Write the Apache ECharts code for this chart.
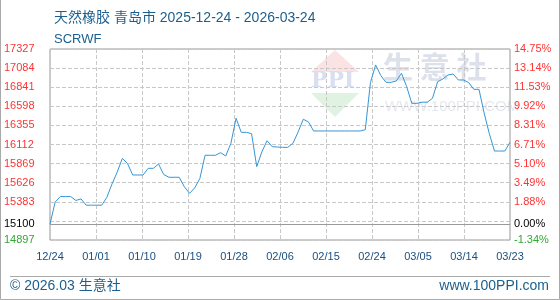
<!DOCTYPE html>
<html>
<head>
<meta charset="utf-8">
<script src="https://cdn.jsdelivr.net/npm/echarts@6/dist/echarts.min.js"></script>
<style>
html,body{margin:0;padding:0;background:#fff;}
#main{width:560px;height:300px;}
</style>
</head>
<body>
<div id="main"></div>
<script>
// ---- data ----
var dates = [
 '12/24','12/25','12/26','12/27','12/28','12/29','12/30','12/31',
 '01/01','01/02','01/03','01/04','01/05','01/06','01/07','01/08','01/09','01/10',
 '01/11','01/12','01/13','01/14','01/15','01/16','01/17','01/18','01/19','01/20',
 '01/21','01/22','01/23','01/24','01/25','01/26','01/27','01/28','01/29','01/30','01/31',
 '02/01','02/02','02/03','02/04','02/05','02/06','02/07','02/08','02/09','02/10',
 '02/11','02/12','02/13','02/14','02/15','02/16','02/17','02/18','02/19','02/20',
 '02/21','02/22','02/23','02/24','02/25','02/26','02/27','02/28',
 '03/01','03/02','03/03','03/04','03/05','03/06','03/07','03/08','03/09','03/10',
 '03/11','03/12','03/13','03/14','03/15','03/16','03/17','03/18','03/19','03/20',
 '03/21','03/22','03/23'
];
var prices = [
 15100,15380,15450,15450,15450,15400,15420,15340,15340,15340,
 15340,15440,15610,15760,15936,15870,15724,15724,15724,15809,
 15809,15864,15730,15695,15695,15695,15574,15490,15560,15680,
 15975,15975,15975,16008,15966,16127,16445,16267,16267,16250,
 15830,16020,16160,16084,16080,16076,16076,16127,16270,16433,
 16400,16284,16284,16284,16284,16284,16284,16284,16284,16284,
 16284,16300,16900,17124,16990,16903,16903,16920,17018,16850,
 16636,16636,16650,16650,16700,16911,16945,16996,17009,16933,
 16933,16900,16814,16814,16510,16250,16029,16029,16029,16140
];
var basePrice = 15100;
var xLabels = ['12/24','01/01','01/10','01/19','01/28','02/06','02/15','02/24','03/05','03/14','03/23'];
var yGrid = [14897,15140,15383,15626,15869,16112,16355,16598,16841,17084,17327];
var yLabels = [14897,15100,15383,15626,15869,16112,16355,16598,16841,17084,17327];
var pctLabels = ['-1.34%','0.00%','1.88%','3.49%','5.10%','6.71%','8.31%','9.92%','11.53%','13.14%','14.75%'];
var yMin = 14897, yMax = 17327;

var FONT = '"Liberation Sans","Noto Sans CJK SC",sans-serif';
function labelColor(v){
  v = Number(v);
  if (v > basePrice) return '#ff3333';
  if (v < basePrice) return '#33a633';
  return '#000000';
}

var chart = echarts.init(document.getElementById('main'), null, {renderer:'canvas'});
chart.setOption({
  animation:false,
  backgroundColor:'#ffffff',
  title:[
    {text:'天然橡胶 青岛市 2025-12-24 - 2026-03-24', left:49, top:6,
     textStyle:{fontFamily:FONT, fontSize:14, fontWeight:'normal', color:'#1b5f8e'}},
    {text:'SCRWF', left:49, top:28,
     textStyle:{fontFamily:FONT, fontSize:13, fontWeight:'normal', color:'#1b5f8e'}}
  ],
  grid:{left:50, top:49, width:460, height:191, show:true, borderColor:'#999', borderWidth:1,
        backgroundColor:'transparent', containLabel:false, outerBoundsMode:'none'},
  xAxis:[
    {type:'category', data:dates, boundaryGap:false, position:'top', show:false},
    {type:'value', min:0, max:10, interval:1, position:'bottom',
     axisLine:{show:false}, axisTick:{show:false},
     splitLine:{show:true, lineStyle:{color:'#c8c8c8', type:[4,2], width:1}},
     axisLabel:{margin:11, fontFamily:FONT, fontSize:11, color:'#1a4f7f',
       formatter:function(v){ return xLabels[Math.round(v)] || ''; }}}
  ],
  yAxis:[
    {type:'value', min:yMin, max:yMax, position:'left',
     axisLine:{show:false},
     axisTick:{show:false, customValues:yGrid},
     splitLine:{show:true, lineStyle:{color:'#c8c8c8', type:[4,2], width:1}},
     axisLabel:{customValues:yLabels, align:'left', margin:46, fontFamily:FONT, fontSize:11,
       color:function(v){ return labelColor(v); },
       formatter:function(v){ return String(v); }}},
    {type:'value', min:yMin, max:yMax, position:'right',
     axisLine:{show:false},
     axisTick:{show:false, customValues:yLabels},
     splitLine:{show:false},
     axisLabel:{customValues:yLabels, align:'left', margin:4, fontFamily:FONT, fontSize:11,
       color:function(v){ return labelColor(v); },
       formatter:function(v){ var i = yLabels.indexOf(Number(v)); return i >= 0 ? pctLabels[i] : ''; }}}
  ],
  graphic:[
    // watermark logo
    {type:'polygon', silent:true, z:-1, shape:{points:[[335,50],[311,72],[359,72]]}, style:{fill:'#fbe3e3'}},
    {type:'text', silent:true, z:-1, left:311, top:70, style:{text:'PPI', fontFamily:'"DejaVu Serif",serif', fontSize:22, fontWeight:'bold', fill:'#d9dff0'}},
    {type:'polygon', silent:true, z:-1, shape:{points:[[311,93],[359,93],[335,117]]}, style:{fill:'#e0f2e2'}},
    {type:'text', silent:true, z:-1, left:383, top:52, style:{text:'生 意 社', fontFamily:'"Noto Sans CJK SC",sans-serif', fontSize:30, fontWeight:'bold', fill:'#dde1ec'}},
    {type:'text', silent:true, z:-1, left:385, top:99, style:{text:'WWW.100PPI.COM', fontFamily:FONT, fontSize:15, fill:'#e6e8ef'}},
    // footer
    {type:'line', silent:true, shape:{x1:10, y1:276.5, x2:550, y2:276.5}, style:{stroke:'#aaaaaa', lineWidth:1}},
    {type:'text', silent:true, left:10, top:279, style:{text:'© 2026.03 生意社', fontFamily:FONT, fontSize:14, fill:'#1b5f8e'}},
    {type:'text', silent:true, right:11, top:279, style:{text:'www.100PPI.com', fontFamily:FONT, fontSize:14, fill:'#1b5f8e'}},
    // outer frame
    {type:'polyline', silent:true, shape:{points:[[0.5,0],[0.5,299.5],[559.5,299.5],[559.5,0]]}, style:{stroke:'#aaaaaa', lineWidth:1, fill:null}}
  ],
  series:[
    {type:'line', xAxisIndex:0, yAxisIndex:0, data:prices, showSymbol:false, symbol:'none',
     lineStyle:{color:'#3596d6', width:1}, z:3,
     markLine:{silent:true, symbol:'none', label:{show:false},
       lineStyle:{color:'#999', type:'solid', width:1},
       data:[{yAxis:basePrice}]}}
  ]
});
</script>
</body>
</html>
